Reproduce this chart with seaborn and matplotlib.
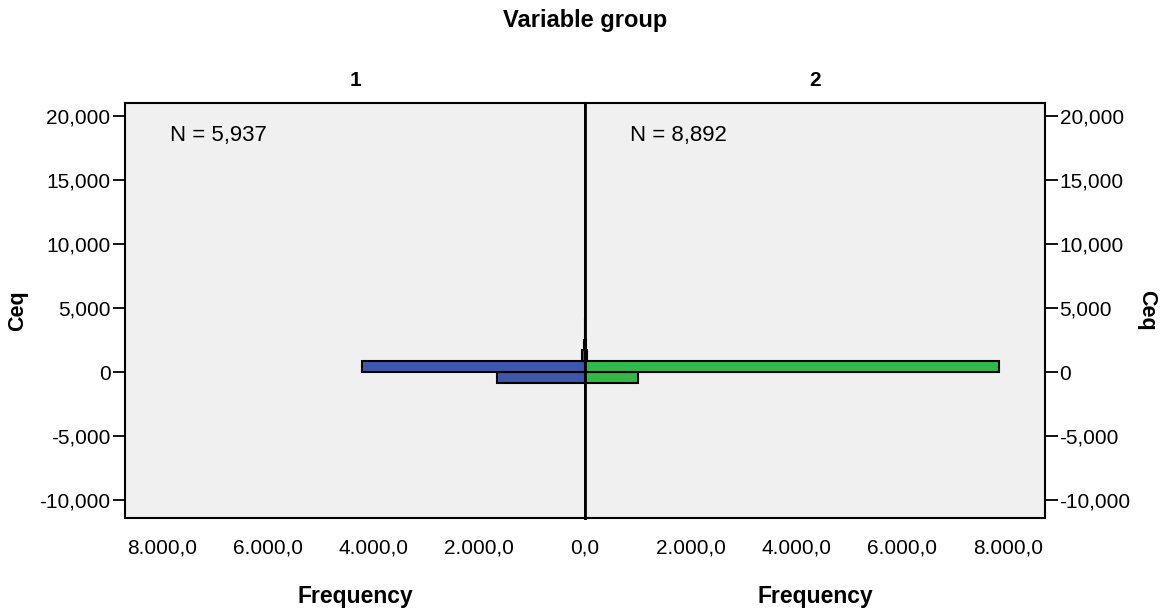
import matplotlib
matplotlib.use("Agg")
import matplotlib.pyplot as plt
import seaborn as sns

# histogram of Ceq per group (counts per bin)
ceq_bin_edges = [-850, 0, 850, 1700, 2550, 3400, 4250]
ceq_bin_centers = [-425, 425, 1275, 2125, 2975, 3825]
group1_counts = [1660, 4210, 50, 10, 4, 3]
group2_counts = [1000, 7830, 45, 10, 4, 3]
group_labels = ["1", "2"]
group_n = ["N = 5,937", "N = 8,892"]
y_ticks = [-10000, -5000, 0, 5000, 10000, 15000, 20000]
x_ticks = [0, 2000, 4000, 6000, 8000]

sns.set_style("white")
plt.rcParams['font.family'] = ['Liberation Sans', 'DejaVu Sans']
plt.rcParams['text.color'] = 'black'
plt.rcParams['axes.labelcolor'] = 'black'
plt.rcParams['xtick.color'] = 'black'
plt.rcParams['ytick.color'] = 'black'

blue = "#3D57AC"
green = "#33B84A"
bg = "#F0F0F0"

fig = plt.figure(figsize=(11.63, 6.11), dpi=100)
ax1 = fig.add_axes([0.1075, 0.152, 0.3955, 0.679])
ax2 = fig.add_axes([0.503, 0.152, 0.3955, 0.679])


def fmt_x(v):
    s = f"{v:,.1f}"
    return s.replace(",", "X").replace(".", ",").replace("X", ".")


for ax, counts, color, label, ntxt in [(ax1, group1_counts, blue, group_labels[0], group_n[0]),
                                       (ax2, group2_counts, green, group_labels[1], group_n[1])]:
    sns.histplot(y=ceq_bin_centers, weights=counts, bins=ceq_bin_edges, ax=ax,
                 color=color, alpha=1, edgecolor="black", linewidth=1.5)
    ax.set_facecolor(bg)
    ax.set_ylim(-11400, 21000)
    ax.set_yticks(y_ticks)
    ax.set_yticklabels([f"{v:,}" for v in y_ticks])
    ax.set_xlim(0, 8700)
    for sp in ax.spines.values():
        sp.set_visible(True)
        sp.set_color("black")
        sp.set_linewidth(1.5)
    ax.set_xlabel("Frequency", fontsize=16.5, fontweight="bold", va="center")
    ax.xaxis.set_label_coords(0.5, -0.188)
    ax.set_ylabel("")
    ax.text(0.5, 1.055, label, transform=ax.transAxes, fontsize=15, fontweight="bold",
            ha="center", va="center")
    ax.text(0.098, 0.923, ntxt, transform=ax.transAxes, fontsize=16, va="center", ha="left")
    ax.tick_params(axis="y", direction="out", length=9, width=1.3, labelsize=15, pad=1.5)
    ax.tick_params(axis="x", direction="out", length=9, width=1.3, labelsize=15, pad=6)

ax1.invert_xaxis()
ax1.set_xticks(x_ticks)
ax1.set_xticklabels([fmt_x(v) for v in x_ticks])
ax2.set_xticks(x_ticks[1:])
ax2.set_xticklabels([fmt_x(v) for v in x_ticks[1:]])

ax1.yaxis.tick_left()
ax1.set_ylabel("Ceq", fontsize=15.5, fontweight="bold", va="center")
ax1.yaxis.set_label_coords(-0.233, 0.5)
ax2.yaxis.tick_right()
ax2.yaxis.set_label_position("right")
ax2.set_ylabel("Ceq", fontsize=15.5, fontweight="bold", rotation=270, va="center")
ax2.yaxis.set_label_coords(1.221, 0.5)

ax1.spines["right"].set_linewidth(2)
ax2.spines["left"].set_linewidth(2)

fig.text(0.503, 0.967, "Variable group", ha="center", va="center", fontsize=17, fontweight="bold")

fig.savefig("out.png", dpi=100)
